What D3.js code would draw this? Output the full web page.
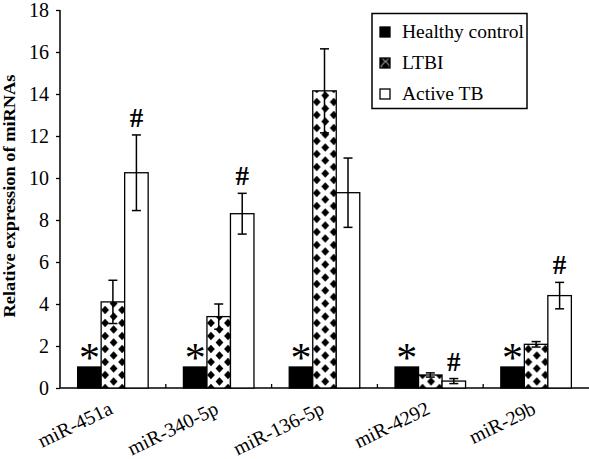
<!DOCTYPE html>
<html>
<head>
<meta charset="utf-8">
<script src="https://cdn.jsdelivr.net/npm/d3@7"></script>
<style>
  html, body { margin: 0; padding: 0; background: #fff; }
  svg { display: block; }
  text { font-family: "Liberation Serif", "Times New Roman", serif; fill: #000; }
</style>
</head>
<body>
<svg id="chart" width="589" height="459"></svg>
<script>
// ---- data ----
const categories = ["miR-451a", "miR-340-5p", "miR-136-5p", "miR-4292", "miR-29b"];
const seriesNames = ["Healthy control", "LTBI", "Active TB"];
const healthyValues = [1, 1, 1, 1, 1];
const healthyErrors = [0, 0, 0, 0, 0];
const ltbiValues = [4.1, 3.4, 14.15, 0.62, 2.08];
const ltbiErrors = [1.03, 0.6, 2.0, 0.1, 0.13];
const activeValues = [10.25, 8.3, 9.3, 0.33, 4.4];
const activeErrors = [1.8, 0.97, 1.65, 0.12, 0.63];
const healthyMarks = ["*", "*", "*", "*", "*"];
const activeMarks = ["#", "#", "", "#", "#"];
const yTicks = [0, 2, 4, 6, 8, 10, 12, 14, 16, 18];
const yTitle = "Relative expression of miRNAs";

// ---- layout ----
const svg = d3.select("#chart");
const plotLeft = 60, plotRight = 589, plotTop = 10, plotBottom = 388;

const x0 = d3.scaleBand().domain(categories).range([plotLeft, plotRight]).padding(0);
const x1 = d3.scaleBand().domain(seriesNames).range([0, x0.bandwidth()])
  .paddingInner(0).paddingOuter(0.75);
const y = d3.scaleLinear().domain([0, 18]).range([plotBottom, plotTop]);

const seriesData = [
  { name: "Healthy control", values: healthyValues, errors: healthyErrors, fill: "#000" },
  { name: "LTBI", values: ltbiValues, errors: ltbiErrors, fill: "pattern" },
  { name: "Active TB", values: activeValues, errors: activeErrors, fill: "#fff" }
];

const bars = [];
seriesData.forEach(s => {
  categories.forEach((c, i) => {
    bars.push({ series: s.name, cat: c, i, value: s.values[i], err: s.errors[i], fill: s.fill });
  });
});

// ---- patterns ----
const defs = svg.append("defs");
function diamondPattern(id, px, py, w, h, hw, hh) {
  const p = defs.append("pattern")
    .attr("id", id)
    .attr("patternUnits", "userSpaceOnUse")
    .attr("x", px).attr("y", py)
    .attr("width", w).attr("height", h);
  p.append("rect").attr("width", w).attr("height", h).attr("fill", "#fff");
  const pts = [[0, 0], [w, 0], [0, h], [w, h], [w / 2, h / 2]];
  pts.forEach(([cx, cy]) => {
    p.append("path")
      .attr("d", `M${cx - hw},${cy} L${cx},${cy - hh} L${cx + hw},${cy} L${cx},${cy + hh} Z`)
      .attr("fill", "#000");
  });
}
bars.filter(b => b.fill === "pattern").forEach((b, k) => {
  const bx = x0(b.cat) + x1(b.series);
  b.patternId = "ltbi" + k;
  diamondPattern(b.patternId, bx + 4, plotBottom, 17, 13, 3.9, 4.3);
});

// ---- axes ----
const yAxis = svg.append("g")
  .attr("transform", `translate(${plotLeft},0)`)
  .call(d3.axisLeft(y).tickValues(yTicks).tickSize(4).tickPadding(7).tickFormat(d3.format("d")));
yAxis.select(".domain").attr("stroke", "#000").attr("stroke-width", 1.5).attr("d", `M0,${plotTop}V${plotBottom}`);
yAxis.selectAll(".tick line").attr("stroke", "#000").attr("stroke-width", 1.3);
yAxis.selectAll(".tick text").attr("font-size", 20).attr("font-family", "Liberation Serif").attr("dy", "0.34em");

const xAxis = svg.append("g")
  .attr("transform", `translate(0,${plotBottom})`);
xAxis.append("path")
  .attr("d", `M${plotLeft},0H${plotRight}`)
  .attr("stroke", "#000").attr("stroke-width", 1.5).attr("fill", "none");
xAxis.selectAll("line.sep")
  .data(categories.slice(1))
  .join("line")
  .attr("class", "sep")
  .attr("x1", d => x0(d)).attr("x2", d => x0(d))
  .attr("y1", 0).attr("y2", -4)
  .attr("stroke", "#000").attr("stroke-width", 1.3);

xAxis.selectAll("text.cat")
  .data(categories)
  .join("text")
  .attr("class", "cat")
  .attr("text-anchor", "end")
  .attr("font-size", 20)
  .attr("transform", d => `translate(${x0(d) + x0.bandwidth() / 2 + 1},${25}) rotate(-26)`)
  .text(d => d);

// ---- bars ----
const plot = svg.append("g");
plot.selectAll("rect.bar")
  .data(bars)
  .join("rect")
  .attr("class", "bar")
  .attr("x", d => x0(d.cat) + x1(d.series))
  .attr("y", d => y(d.value))
  .attr("width", x1.bandwidth())
  .attr("height", d => y(0) - y(d.value))
  .attr("fill", d => d.fill === "pattern" ? `url(#${d.patternId})` : d.fill)
  .attr("stroke", "#000")
  .attr("stroke-width", 1.3);

// ---- error bars ----
const errBars = bars.filter(d => d.err > 0);
const eg = plot.selectAll("g.err").data(errBars).join("g").attr("class", "err")
  .attr("transform", d => `translate(${x0(d.cat) + x1(d.series) + x1.bandwidth() / 2},0)`);
eg.append("line")
  .attr("x1", 0).attr("x2", 0)
  .attr("y1", d => y(d.value + d.err)).attr("y2", d => y(d.value - d.err))
  .attr("stroke", "#000").attr("stroke-width", 1.5);
eg.append("line")
  .attr("x1", -4.5).attr("x2", 4.5)
  .attr("y1", d => y(d.value + d.err)).attr("y2", d => y(d.value + d.err))
  .attr("stroke", "#000").attr("stroke-width", 1.5);
eg.append("line")
  .attr("x1", -4.5).attr("x2", 4.5)
  .attr("y1", d => y(d.value - d.err)).attr("y2", d => y(d.value - d.err))
  .attr("stroke", "#000").attr("stroke-width", 1.5);

// ---- significance marks ----
plot.selectAll("text.star")
  .data(categories.map((c, i) => ({ cat: c, mark: healthyMarks[i], v: healthyValues[i] + healthyErrors[i] })))
  .join("text")
  .attr("class", "star")
  .attr("text-anchor", "middle")
  .attr("font-size", 42)
  .attr("x", d => x0(d.cat) + x1("Healthy control") + x1.bandwidth() / 2)
  .attr("y", d => y(d.v) + 5)
  .text(d => d.mark);

plot.selectAll("text.hash")
  .data(categories.map((c, i) => ({ cat: c, mark: activeMarks[i], v: activeValues[i] + activeErrors[i] })))
  .join("text")
  .attr("class", "hash")
  .attr("text-anchor", "middle")
  .attr("font-size", 27)
  .attr("font-weight", "bold")
  .attr("x", d => x0(d.cat) + x1("Active TB") + x1.bandwidth() / 2)
  .attr("y", d => y(d.v) - 8)
  .text(d => d.mark);

// ---- y title ----
svg.append("text")
  .attr("transform", `translate(15,196) rotate(-90)`)
  .attr("text-anchor", "middle")
  .attr("font-size", 16)
  .attr("font-weight", "bold")
  .attr("textLength", 243)
  .attr("lengthAdjust", "spacingAndGlyphs")
  .text(yTitle);

// ---- legend ----
const lg = svg.append("g");
lg.append("rect")
  .attr("x", 372).attr("y", 13.5).attr("width", 155).attr("height", 95)
  .attr("fill", "#fff").attr("stroke", "#000").attr("stroke-width", 1.5);
diamondPattern("legendPat", 380.5, 63.5, 10, 10, 4.2, 5);
const legendFills = ["#000", "url(#legendPat)", "#fff"];
const li = lg.selectAll("g.item").data(seriesNames).join("g").attr("class", "item")
  .attr("transform", (d, i) => `translate(380,${27 + i * 31})`);
li.append("rect")
  .attr("width", 10).attr("height", 10)
  .attr("fill", (d, i) => legendFills[i])
  .attr("stroke", "#000").attr("stroke-width", 1.3);
li.append("text")
  .attr("x", 22).attr("y", 10.5)
  .attr("font-size", 19.5)
  .text(d => d);
</script>
</body>
</html>
